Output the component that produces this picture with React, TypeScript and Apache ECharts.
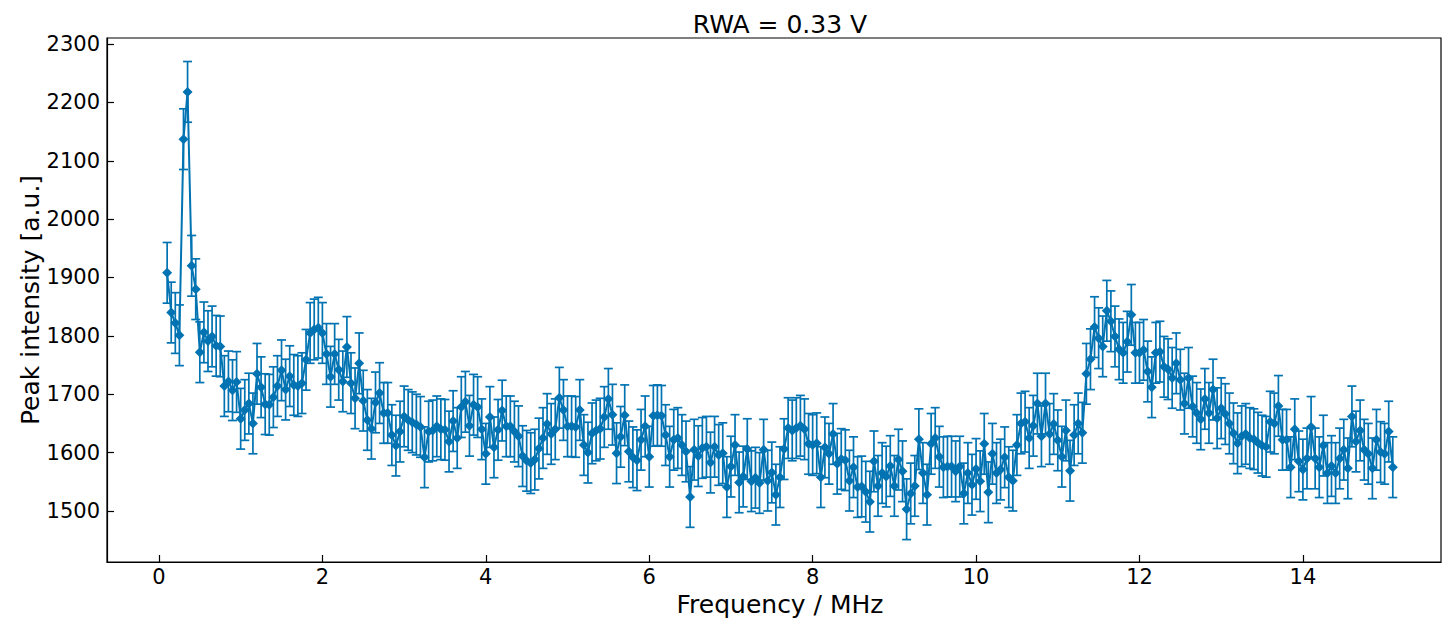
import React, { useEffect, useRef } from "react";
import * as echarts from "echarts";

// Frequency grid (MHz): first point and spacing
const FREQ_START = 0.1;
const FREQ_STEP = 0.05;

// Peak intensity [a.u.], one value per frequency step
const intensity = [
  1908, 1840, 1822, 1801, 2137, 2218, 1920, 1880, 1772, 1806,
  1791, 1799, 1783, 1782, 1714, 1722, 1707, 1721, 1658, 1673,
  1684, 1650, 1735, 1712, 1683, 1682, 1695, 1714, 1741, 1708,
  1731, 1716, 1714, 1719, 1759, 1805, 1811, 1814, 1805, 1769,
  1730, 1769, 1742, 1722, 1781, 1719, 1693, 1753, 1689, 1656,
  1641, 1686, 1702, 1668, 1668, 1630, 1612, 1636, 1662, 1656,
  1652, 1648, 1644, 1592, 1636, 1638, 1645, 1640, 1639, 1619,
  1654, 1625, 1678, 1687, 1646, 1682, 1678, 1640, 1598, 1661,
  1609, 1639, 1672, 1645, 1645, 1636, 1628, 1594, 1586, 1582,
  1588, 1607, 1625, 1649, 1632, 1640, 1694, 1673, 1645, 1645,
  1644, 1673, 1613, 1600, 1633, 1638, 1641, 1661, 1692, 1665,
  1599, 1627, 1664, 1602, 1592, 1587, 1622, 1645, 1593, 1663,
  1664, 1663, 1630, 1593, 1622, 1625, 1613, 1602, 1524, 1605,
  1594, 1608, 1610, 1583, 1610, 1596, 1599, 1541, 1576, 1613,
  1549, 1559, 1606, 1551, 1557, 1548, 1605, 1552, 1566, 1528,
  1558, 1606, 1642, 1638, 1642, 1646, 1640, 1615, 1613, 1616,
  1558, 1609, 1598, 1632, 1581, 1589, 1587, 1552, 1575, 1541,
  1542, 1533, 1516, 1585, 1543, 1565, 1559, 1577, 1543, 1588,
  1568, 1503, 1530, 1543, 1623, 1565, 1528, 1615, 1625, 1593,
  1575, 1576, 1576, 1568, 1576, 1530, 1565, 1545, 1572, 1551,
  1615, 1532, 1598, 1565, 1571, 1592, 1558, 1552, 1613, 1650,
  1653, 1625, 1646, 1684, 1628, 1684, 1632, 1649, 1621, 1593,
  1638, 1569, 1630, 1650, 1634, 1735, 1760, 1815, 1796, 1782,
  1843, 1825, 1799, 1777, 1771, 1790, 1836, 1771, 1771, 1776,
  1739, 1712, 1771, 1773, 1747, 1743, 1728, 1753, 1725, 1684,
  1728, 1679, 1668, 1657, 1692, 1668, 1708, 1659, 1676, 1666,
  1650, 1633, 1616, 1628, 1632, 1625, 1623, 1617, 1612, 1610,
  1653, 1650, 1680, 1622, 1622, 1575, 1640, 1585, 1571, 1590,
  1644, 1590, 1575, 1612, 1565, 1577, 1565, 1590, 1605, 1573,
  1662, 1619, 1638, 1605, 1598, 1573, 1622, 1601, 1598, 1636,
  1575,
];

// Half-length of each error bar [a.u.]
const errorHalf = 52;

const xTicks = [0, 2, 4, 6, 8, 10, 12, 14];
const yTicks = [1500, 1600, 1700, 1800, 1900, 2000, 2100, 2200, 2300];

const titleText = "RWA = 0.33 V";
const xName = "Frequency / MHz";
const yName = "Peak intensity [a.u.]";

const COLOR = "#0173b2";
const FONT = "DejaVu Sans";

export default function App() {
  const ref = useRef<HTMLDivElement>(null);

  useEffect(() => {
    if (!ref.current) return;
    const chart = echarts.init(ref.current, undefined, { renderer: "svg" });

    const freq = intensity.map((_, i) => +(FREQ_START + i * FREQ_STEP).toFixed(2));
    const lineData = intensity.map((v, i) => [freq[i], v]);
    const errData = intensity.map((v, i) => [freq[i], v, errorHalf]);

    const option: any = {
      animation: false,
      grid: {
        left: 107,
        top: 38,
        width: 1334,
        height: 524,
        show: true,
        borderColor: "#000",
        borderWidth: 1.2,
        backgroundColor: "transparent",
      },
      xAxis: {
        type: "value",
        min: -0.636,
        max: 15.69,
        axisLine: { show: true, onZero: false, lineStyle: { color: "#000", width: 1.2 } },
        axisTick: {
          show: true,
          inside: true,
          length: 7,
          customValues: xTicks,
          lineStyle: { color: "#000", width: 1.2 },
        },
        axisLabel: {
          customValues: xTicks,
          formatter: (v: number) => String(v),
          fontSize: 21,
          fontFamily: FONT,
          color: "#000",
          margin: 4,
        },
        splitLine: { show: false },
      },
      yAxis: {
        type: "value",
        min: 1412.6,
        max: 2310.3,
        axisLine: { show: true, onZero: false, lineStyle: { color: "#000", width: 1.2 } },
        axisTick: {
          show: true,
          inside: true,
          length: 7,
          customValues: yTicks,
          lineStyle: { color: "#000", width: 1.2 },
        },
        axisLabel: {
          customValues: yTicks,
          formatter: (v: number) => String(v),
          fontSize: 21,
          fontFamily: FONT,
          color: "#000",
          margin: 7,
        },
        splitLine: { show: false },
      },
      graphic: [
        {
          type: "text",
          x: 780,
          y: 24,
          style: {
            text: titleText,
            fontSize: 25,
            fontFamily: FONT,
            fill: "#000",
            textAlign: "center",
            textVerticalAlign: "middle",
          },
        },
        {
          type: "text",
          x: 780,
          y: 604,
          style: {
            text: xName,
            fontSize: 25,
            fontFamily: FONT,
            fill: "#000",
            textAlign: "center",
            textVerticalAlign: "middle",
          },
        },
        {
          type: "text",
          x: 30,
          y: 300,
          rotation: Math.PI / 2,
          style: {
            text: yName,
            fontSize: 25,
            fontFamily: FONT,
            fill: "#000",
            textAlign: "center",
            textVerticalAlign: "middle",
          },
        },
      ],
      series: [
        {
          type: "custom",
          clip: true,
          encode: { x: 0, y: 1 },
          data: errData,
          z: 2,
          renderItem: (params: any, api: any) => {
            const x = api.value(0);
            const y = api.value(1);
            const e = api.value(2);
            const top = api.coord([x, y + e]);
            const bot = api.coord([x, y - e]);
            const hw = 4.5;
            const style = { stroke: COLOR, lineWidth: 1.7, fill: "none" };
            return {
              type: "group",
              children: [
                { type: "line", shape: { x1: top[0], y1: top[1], x2: bot[0], y2: bot[1] }, style },
                { type: "line", shape: { x1: top[0] - hw, y1: top[1], x2: top[0] + hw, y2: top[1] }, style },
                { type: "line", shape: { x1: bot[0] - hw, y1: bot[1], x2: bot[0] + hw, y2: bot[1] }, style },
              ],
            };
          },
        },
        {
          type: "line",
          data: lineData,
          z: 3,
          symbol: "diamond",
          symbolSize: 10,
          showSymbol: true,
          showAllSymbol: true,
          itemStyle: { color: COLOR },
          lineStyle: { color: COLOR, width: 2 },
        },
      ],
    };

    chart.setOption(option);
    return () => chart.dispose();
  }, []);

  return (
    <div
      ref={ref}
      style={{ position: "fixed", left: 0, top: 0, width: 1442, height: 618, background: "#fff" }}
    />
  );
}
